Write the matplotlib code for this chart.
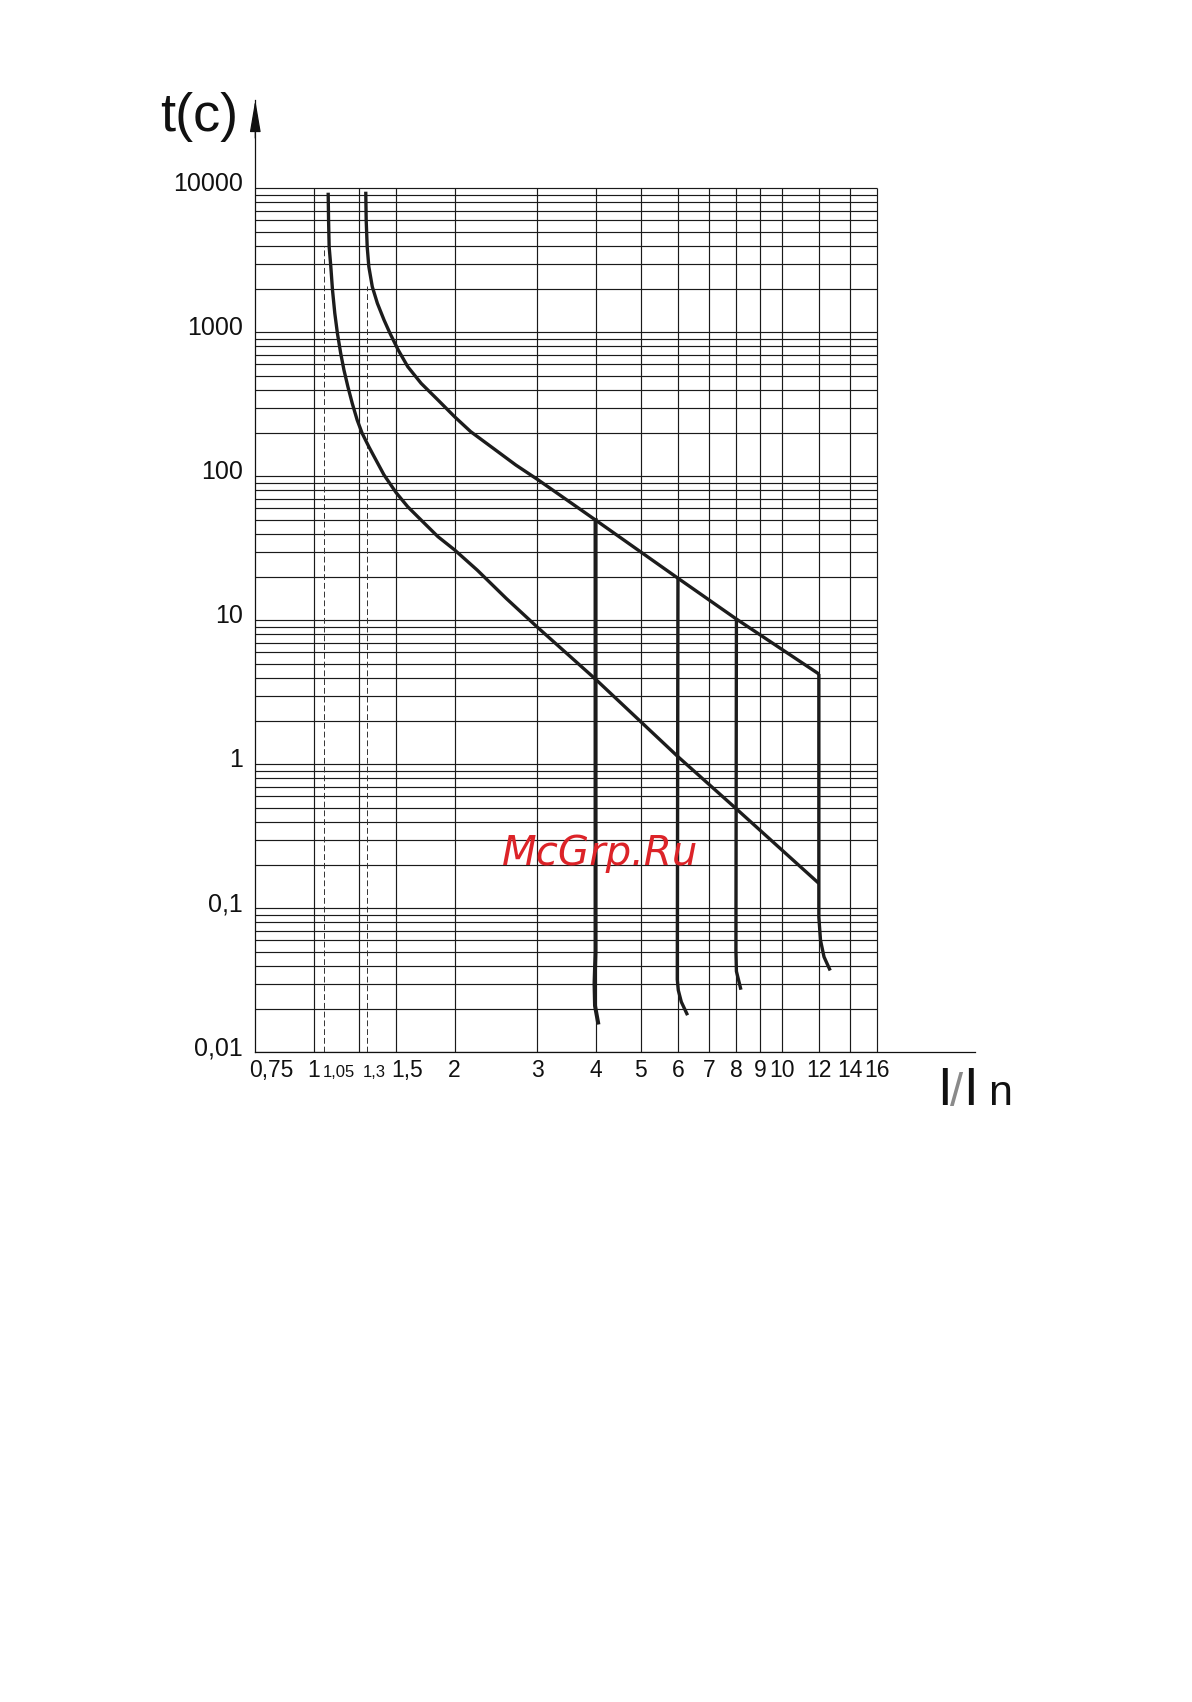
import numpy as np
import matplotlib.pyplot as plt
from matplotlib.transforms import offset_copy, blended_transform_factory

# ----------------------------------------------------------------------
# Данные (время-токовая характеристика, t(c) от I/In)
# ----------------------------------------------------------------------
X_LEFT = 0.75
X_GRID_RIGHT = 16
T_MIN, T_MAX = 0.01, 10000

x_grid = [1, 1.25, 1.5, 2, 3, 4, 5, 6, 7, 8, 9, 10, 12, 14, 16]
x_ticks_big = [1, 2, 3, 4, 5, 6, 7, 8, 9, 10, 12, 14, 16]
x_labels_big = ["1", "2", "3", "4", "5", "6", "7", "8", "9", "10", "12", "14", "16"]
x_dashed = [1.05, 1.3]
x_dashed_top = [4000, 2100]
x_labels_small = ["1,05", "1,3"]

y_ticks = [10000, 1000, 100, 10, 1, 0.1, 0.01]
y_labels = ["10000", "1000", "100", "10", "1", "0,1", "0,01"]

# верхняя граница
upper_i = [1.2915, 1.2941, 1.3006, 1.3111, 1.3336, 1.3674, 1.4131, 1.455,
           1.515, 1.588, 1.696, 1.842, 2.0, 2.165, 2.418, 2.702, 3.018,
           4.0, 6.0, 8.0, 12.0]
upper_t = [9470, 6025, 3930, 2856, 2073, 1590, 1217, 984,
           754, 577, 442, 339, 259, 204, 156.5, 119.8, 94.3,
           49.7, 19.6, 10.2, 4.24]

# нижняя граница
lower_i = [1.0734, 1.0755, 1.0786, 1.0875, 1.0965, 1.109, 1.1233, 1.1417,
           1.1601, 1.1828, 1.2084, 1.238, 1.2687, 1.3111, 1.340, 1.4131,
           1.5, 1.5874, 1.6811, 1.842, 2.0, 2.2355, 2.5771, 3.0, 4.0, 6.0,
           8.0, 12.0]
lower_t = [9320, 6025, 3930, 2856, 1966, 1355, 984, 714,
           547, 419, 321, 246, 199, 160.6, 140.6, 102.1,
           76.9, 61.5, 51.1, 38.1, 30.8, 22.3, 14.2, 9.0, 3.9, 1.13,
           0.49, 0.149]

# электромагнитное срабатывание (вертикали с «хвостами»)
drop4_i = [4.0, 4.0, 3.98, 3.99, 4.05]
drop4_t = [49.7, 0.05, 0.03, 0.021, 0.0161]
drop6_i = [6.0, 5.98, 6.01, 6.10, 6.29]
drop6_t = [19.6, 0.032, 0.027, 0.0224, 0.0181]
drop8_i = [8.0, 7.98, 8.0, 8.18]
drop8_t = [10.2, 0.051, 0.0365, 0.0272]
drop12_i = [12.0, 12.0, 12.1, 12.31, 12.69]
drop12_t = [4.24, 0.087, 0.060, 0.046, 0.037]

# ----------------------------------------------------------------------
W, H = 1192, 1702
fig = plt.figure(figsize=(W / 100, H / 100), dpi=100)
plt.rcParams["font.family"] = ["Liberation Sans", "DejaVu Sans"]

# оси: левый край 255 px, ось X до 975 px, стрелка Y на 100 px
ax = fig.add_axes([255.3 / W, 1 - 1052.3 / H, (975 - 255.3) / W, (1052.3 - 100) / H])
ax.set_xscale("log")
ax.set_yscale("log")
x_right = X_LEFT * 10 ** ((975 - 255.3) / 468.0)
y_top = T_MAX * 10 ** ((188.3 - 100) / 144.0)
ax.set_xlim(X_LEFT, x_right)
ax.set_ylim(T_MIN, y_top)
for s in ["top", "right"]:
    ax.spines[s].set_visible(False)
for s in ["left", "bottom"]:
    ax.spines[s].set_linewidth(0.9)
    ax.spines[s].set_color("#111111")
ax.tick_params(which="both", length=0, labelbottom=False, labelleft=False)
ax.set_xticks([])
ax.set_yticks([])
ax.minorticks_off()

grid_kw = dict(color="#1a1a1a", linewidth=0.85, zorder=1)
# горизонтальная сетка: декады и 2..9
h_lines = []
for dec in range(-2, 4):
    for m in range(1, 10):
        h_lines.append(m * 10.0 ** dec)
h_lines.append(T_MAX)
ax.hlines(h_lines, X_LEFT, X_GRID_RIGHT, **grid_kw)
ax.vlines(x_grid, T_MIN, T_MAX, **grid_kw)

# пунктир 1,05 и 1,3
for xd, top in zip(x_dashed, x_dashed_top):
    ax.vlines(xd, T_MIN, top, color="#333333", linewidth=0.7,
              linestyles=(0, (6, 3)), zorder=1)

curve_kw = dict(color="#1c1c1c", linewidth=2.4, solid_capstyle="butt",
                solid_joinstyle="round", zorder=3)
ax.plot(upper_i, upper_t, **curve_kw)
ax.plot(lower_i, lower_t, **curve_kw)
ax.plot(drop4_i, drop4_t, color="#1c1c1c", linewidth=2.9, zorder=3)
ax.plot(drop6_i, drop6_t, **curve_kw)
ax.plot(drop8_i, drop8_t, **curve_kw)
ax.plot(drop12_i, drop12_t, **curve_kw)

# стрелка оси Y
ax.annotate("", xy=(0, 1), xycoords="axes fraction", xytext=(0, 0.96),
            arrowprops=dict(arrowstyle="-|>,head_length=1.0,head_width=0.17",
                            color="#111111", lw=0.9, shrinkA=0, shrinkB=0,
                            mutation_scale=20))

# подписи оси Y
ytr = offset_copy(ax.transData, fig=fig, x=-12.6, y=4, units="dots")
for v, lab in zip(y_ticks, y_labels):
    ax.text(X_LEFT, v, lab, transform=ytr, ha="right", va="center",
            fontsize=18, color="#111111")

# подписи оси X
xb = blended_transform_factory(ax.transData, ax.transAxes)
xtr = offset_copy(xb, fig=fig, y=-24.7, units="dots")
big = 16.5
for v, lab in zip(x_ticks_big, x_labels_big):
    ax.text(v, 0, lab, transform=xtr, ha="center", va="baseline",
            fontsize=big, color="#111111")
ax.text(X_LEFT, 0, "0,75", ha="left", va="baseline", fontsize=big,
        color="#111111",
        transform=offset_copy(xb, fig=fig, x=-6, y=-24.7, units="dots"))
ax.text(1.5, 0, "1,5", ha="left", va="baseline", fontsize=big,
        color="#111111",
        transform=offset_copy(xb, fig=fig, x=-5, y=-24.7, units="dots"))
for v, lab, dx in zip(x_dashed, x_labels_small, [-1, -4]):
    ax.text(v, 0, lab, ha="left", va="baseline", fontsize=12,
            color="#111111",
            transform=offset_copy(xb, fig=fig, x=dx, y=-24.7, units="dots"))

# заголовки осей
fig.text(160 / W, 1 - 131 / H, "t(c)", fontsize=39, ha="left", va="baseline",
         color="#111111")
fig.text(937 / W, 1 - 1105 / H, "I", fontsize=38, ha="left", va="baseline",
         color="#111111")
fig.text(950 / W, 1 - 1106 / H, "/", fontsize=34, ha="left", va="baseline",
         color="#8a8a8a")
fig.text(963.5 / W, 1 - 1105 / H, "I", fontsize=38, ha="left", va="baseline",
         color="#111111")
fig.text(988 / W, 1 - 1105 / H, "n", fontsize=31, ha="left", va="baseline",
         color="#111111")

# водяной знак
fig.text(502 / W, 1 - 865 / H, "McGrp.Ru", fontsize=29, style="italic",
         family=["DejaVu Sans"], color="#dc2328", ha="left", va="baseline",
         zorder=5)

fig.savefig("out.png", dpi=100)
plt.close(fig)
